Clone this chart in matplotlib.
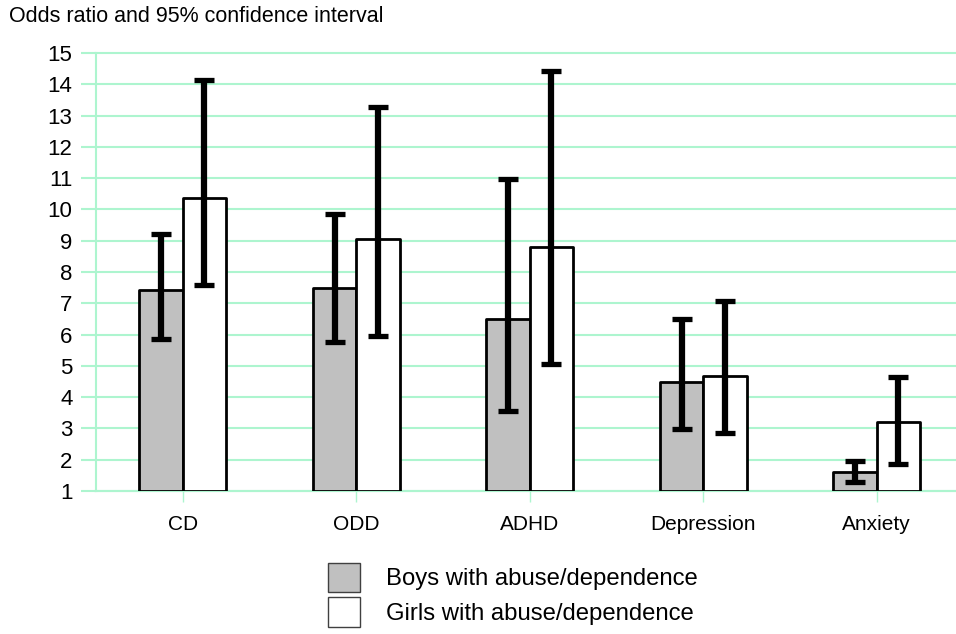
import matplotlib.pyplot as plt
import numpy as np
from matplotlib.patches import Patch

plt.rcParams['font.family'] = ['Liberation Sans', 'DejaVu Sans']

# Odds ratios and 95% CI
categories = ["CD", "ODD", "ADHD", "Depression", "Anxiety"]
boys_or = [7.42, 7.5, 6.5, 4.48, 1.6]
boys_low = [5.87, 5.77, 3.55, 2.97, 1.3]
boys_high = [9.2, 9.86, 10.98, 6.5, 1.97]
girls_or = [10.38, 9.07, 8.8, 4.67, 3.2]
girls_low = [7.6, 5.95, 5.05, 2.85, 1.87]
girls_high = [14.15, 13.27, 14.42, 7.07, 4.65]
y_ticks = list(range(1, 16))

grid_col = '#adf5cf'
x = np.arange(len(categories))
w = 0.25
base = 1

fig = plt.figure(figsize=(9.56, 6.34), dpi=100)
ax = fig.add_axes([96 / 956, (634 - 491) / 634, 867.5 / 956, 438 / 634])

boys_h = np.array(boys_or) - base
girls_h = np.array(girls_or) - base
ax.bar(x - w / 2, boys_h, w, bottom=base, color='#c0c0c0', edgecolor='black',
       linewidth=2, joinstyle='round', zorder=3)
ax.bar(x + w / 2, girls_h, w, bottom=base, color='white', edgecolor='black',
       linewidth=2, joinstyle='round', zorder=3)

# error bars
for xs, val, lo, hi in [(x - w / 2, boys_or, boys_low, boys_high),
                        (x + w / 2, girls_or, girls_low, girls_high)]:
    val = np.array(val)
    yerr = [val - np.array(lo), np.array(hi) - val]
    ax.errorbar(xs, val, yerr=yerr, fmt='none', ecolor='black', elinewidth=4.5,
                capsize=7.5, capthick=3.8, zorder=4)

ax.set_xlim(-0.5, len(categories) - 0.5)
ax.set_ylim(1, 15)
ax.set_yticks(y_ticks)
ax.set_xticks(x)
ax.set_xticklabels(categories)
ax.yaxis.grid(True, color=grid_col, linewidth=1.5, zorder=0)
ax.set_axisbelow(True)
for gl in ax.get_ygridlines():
    gl.set_clip_on(False)

for side in ['top', 'right']:
    ax.spines[side].set_visible(False)
for side in ['left', 'bottom']:
    ax.spines[side].set_color(grid_col)
    ax.spines[side].set_linewidth(1.5)

ax.tick_params(axis='y', length=11, width=1.5, color=grid_col, pad=6, labelsize=16)
ax.tick_params(axis='x', length=8, width=1, color=grid_col, pad=9, labelsize=15)

fig.text(9 / 956, 1 - 17 / 634, "Odds ratio and 95% confidence interval",
         fontsize=15.5, va='center', ha='left')

# legend
handles = [Patch(facecolor='#c0c0c0', edgecolor='#404040', linewidth=1),
           Patch(facecolor='white', edgecolor='#404040', linewidth=1)]
labels = ["Boys with abuse/dependence", "Girls with abuse/dependence"]
fig.legend(handles, labels, loc='upper left', bbox_to_anchor=(318 / 956, 1 - 553 / 634),
           frameon=False, fontsize=17.2, handlelength=1.35, handleheight=1.5,
           handletextpad=1.1, labelspacing=0.24, borderaxespad=0)

fig.savefig("out.png", dpi=100)
